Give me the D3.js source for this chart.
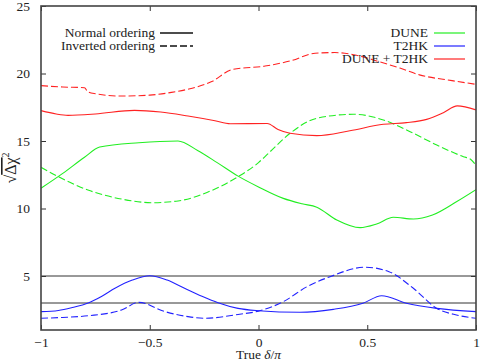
<!DOCTYPE html>
<html>
<head>
<meta charset="utf-8">
<title>DUNE / T2HK CP sensitivity</title>
<script src="https://d3js.org/d3.v7.min.js"></script>
<style>
  body { margin: 0; background: #fff; }
</style>
</head>
<body>
<svg id="chart" width="488" height="361" font-family="Liberation Serif, Times New Roman, serif"></svg>
<script>
// tick labels
const xTicks = [-1, -0.5, 0, 0.5, 1];
const yTicks = [5, 10, 15, 20, 25];
const refLines = [5, 3];

// series: [true delta/pi, sqrt(delta chi^2)]
const duneNO = [[-1, 11.5], [-0.9, 12.6], [-0.8, 13.8], [-0.73, 14.55], [-0.55, 14.87], [-0.37, 15.0],
  [-0.28, 14.3], [-0.19, 13.4], [-0.094, 12.4], [0, 11.6], [0.114, 10.75], [0.2, 10.35], [0.268, 10.1],
  [0.36, 9.15], [0.467, 8.58], [0.543, 8.85], [0.62, 9.35], [0.712, 9.22], [0.8, 9.52], [0.91, 10.5], [1, 11.4]];
const duneIO = [[-1, 13.05], [-0.92, 12.36], [-0.784, 11.37], [-0.63, 10.7], [-0.49, 10.43], [-0.37, 10.56],
  [-0.217, 11.32], [-0.094, 12.36], [0, 13.4], [0.053, 14.2], [0.145, 15.57], [0.268, 16.68], [0.436, 16.98],
  [0.574, 16.56], [0.697, 15.69], [0.82, 14.7], [0.942, 13.84], [0.975, 13.65], [1, 13.2]];
const t2hkNO = [[-1, 2.36], [-0.92, 2.45], [-0.86, 2.65], [-0.78, 3.02], [-0.72, 3.5], [-0.66, 4.09],
  [-0.58, 4.7], [-0.5, 5.02], [-0.42, 4.7], [-0.34, 4.09], [-0.26, 3.5], [-0.186, 3.02], [-0.094, 2.6],
  [0, 2.43], [0.19, 2.31], [0.344, 2.53], [0.48, 2.98], [0.566, 3.54], [0.68, 2.98], [0.82, 2.6], [1, 2.36]];
const t2hkIO = [[-1, 1.87], [-0.9, 1.93], [-0.78, 2.06], [-0.63, 2.48], [-0.55, 3.05], [-0.43, 2.36],
  [-0.324, 1.99], [-0.247, 1.87], [-0.094, 2.15], [0, 2.4], [0.114, 3.1], [0.222, 4.2], [0.329, 4.95],
  [0.49, 5.65], [0.6, 5.32], [0.712, 4.09], [0.82, 2.6], [0.91, 2.11], [1, 1.87]];
const bothNO = [[-1, 17.25], [-0.93, 17.0], [-0.876, 16.9], [-0.75, 17.0], [-0.57, 17.27], [-0.45, 17.15],
  [-0.324, 16.85], [-0.2, 16.5], [-0.13, 16.28], [0.04, 16.3], [0.09, 15.85], [0.145, 15.57], [0.268, 15.4],
  [0.42, 15.76], [0.574, 16.24], [0.68, 16.36], [0.773, 16.6], [0.85, 17.1], [0.914, 17.6], [1, 17.3]];
const bothIO = [[-1, 19.1], [-0.9, 19.0], [-0.8, 18.95], [-0.785, 18.65], [-0.75, 18.5], [-0.63, 18.33],
  [-0.5, 18.4], [-0.4, 18.6], [-0.32, 18.85], [-0.215, 19.4], [-0.12, 20.3], [0.03, 20.55], [0.15, 20.95],
  [0.26, 21.5], [0.35, 21.55], [0.45, 21.35], [0.55, 20.9], [0.65, 20.4], [0.74, 19.9], [0.89, 19.47], [1, 19.2]];

const experiments = ["DUNE", "T2HK", "DUNE + T2HK"];
const orderings = ["Normal ordering", "Inverted ordering"];

const colors = { "DUNE": "#22ee22", "T2HK": "#2222ff", "DUNE + T2HK": "#ff2222" };
const dashes = { "Normal ordering": null, "Inverted ordering": "7,3" };

const series = [
  { exp: "DUNE", ord: "Normal ordering", data: duneNO },
  { exp: "DUNE", ord: "Inverted ordering", data: duneIO },
  { exp: "T2HK", ord: "Normal ordering", data: t2hkNO },
  { exp: "T2HK", ord: "Inverted ordering", data: t2hkIO },
  { exp: "DUNE + T2HK", ord: "Normal ordering", data: bothNO },
  { exp: "DUNE + T2HK", ord: "Inverted ordering", data: bothIO }
];

const svg = d3.select("#chart");
const m = { left: 41, right: 12, top: 6, bottom: 31 };
const W = 488, H = 361;
const font = "Liberation Serif, Times New Roman, serif";
const fs = 13.5;

const x = d3.scaleLinear().domain([-1, 1]).range([m.left, W - m.right]);
const y = d3.scaleLinear().domain([1, 25]).range([H - m.bottom, m.top]);

svg.append("clipPath").attr("id", "clip").append("rect")
  .attr("x", m.left).attr("y", m.top)
  .attr("width", W - m.left - m.right).attr("height", H - m.top - m.bottom);

// reference lines (3 and 5 sigma)
svg.append("g").selectAll("line").data(refLines).enter().append("line")
  .attr("x1", x(-1)).attr("x2", x(1))
  .attr("y1", d => y(d)).attr("y2", d => y(d))
  .attr("stroke", "#333").attr("stroke-width", 1);

const line = d3.line().x(d => x(d[0])).y(d => y(d[1])).curve(d3.curveMonotoneX);

svg.append("g").attr("clip-path", "url(#clip)")
  .selectAll("path").data(series).enter().append("path")
  .attr("d", d => line(d.data))
  .attr("fill", "none")
  .attr("stroke", d => colors[d.exp])
  .attr("stroke-width", 1.1)
  .attr("stroke-dasharray", d => dashes[d.ord]);

// axes: ticks inside, mirrored
const tk = 5;
svg.append("g").attr("transform", `translate(0,${y(1)})`)
  .call(d3.axisBottom(x).tickValues(xTicks).tickSize(-tk).tickFormat(d3.format("")).tickPadding(7))
  .call(g => g.select(".domain").remove());
svg.append("g").attr("transform", `translate(0,${y(25)})`)
  .call(d3.axisTop(x).tickValues(xTicks).tickSize(-tk).tickFormat(""))
  .call(g => g.select(".domain").remove());
svg.append("g").attr("transform", `translate(${x(-1)},0)`)
  .call(d3.axisLeft(y).tickValues(yTicks).tickSize(-tk).tickPadding(11))
  .call(g => g.select(".domain").remove());
svg.append("g").attr("transform", `translate(${x(1)},0)`)
  .call(d3.axisRight(y).tickValues(yTicks).tickSize(-tk).tickFormat(""))
  .call(g => g.select(".domain").remove());

svg.selectAll(".tick line").attr("stroke", "#333");
svg.selectAll(".tick").attr("font-family", font);
svg.selectAll(".tick text").attr("font-size", fs).attr("font-family", font).attr("fill", "#222");

// frame
svg.append("rect")
  .attr("x", x(-1)).attr("y", y(25))
  .attr("width", x(1) - x(-1)).attr("height", y(1) - y(25))
  .attr("fill", "none").attr("stroke", "#444").attr("stroke-width", 1.6);

// axis titles
const xl = svg.append("text").attr("x", x(0)).attr("y", 359).attr("text-anchor", "middle")
  .attr("font-size", fs).attr("font-family", font).attr("fill", "#222");
xl.append("tspan").text("True ");
xl.append("tspan").attr("font-style", "italic").text("δ");
xl.append("tspan").text("/");
xl.append("tspan").attr("font-style", "italic").text("π");

const yl = svg.append("text").attr("transform", `translate(16,${(y(1) + y(25)) / 2}) rotate(-90)`)
  .attr("text-anchor", "middle").attr("font-size", 16).attr("font-family", font).attr("fill", "#222");
yl.append("tspan").text("√");
yl.append("tspan").style("text-decoration", "overline").text("Δχ");
yl.append("tspan").attr("font-size", 10).attr("dy", -7).text("2");

// ordering legend
const ordLeg = svg.append("g").selectAll("g").data(orderings).enter().append("g")
  .attr("transform", (d, i) => `translate(0,${33 + i * 13})`);
ordLeg.append("text").attr("x", 155).attr("y", 4).attr("text-anchor", "end")
  .attr("font-size", fs).attr("font-family", font).attr("fill", "#222").text(d => d);
ordLeg.append("line").attr("x1", 160).attr("x2", 193).attr("y1", 0).attr("y2", 0)
  .attr("stroke", "#111").attr("stroke-width", 1.6).attr("stroke-dasharray", d => dashes[d]);

// experiment legend
const expLeg = svg.append("g").selectAll("g").data(experiments).enter().append("g")
  .attr("transform", (d, i) => `translate(0,${33 + i * 13})`);
expLeg.append("text").attr("x", 428).attr("y", 4).attr("text-anchor", "end")
  .attr("font-size", fs).attr("font-family", font).attr("fill", "#222").text(d => d);
expLeg.append("line").attr("x1", 434).attr("x2", 465).attr("y1", 0).attr("y2", 0)
  .attr("stroke", d => colors[d]).attr("stroke-width", 1.2);
</script>
</body>
</html>
